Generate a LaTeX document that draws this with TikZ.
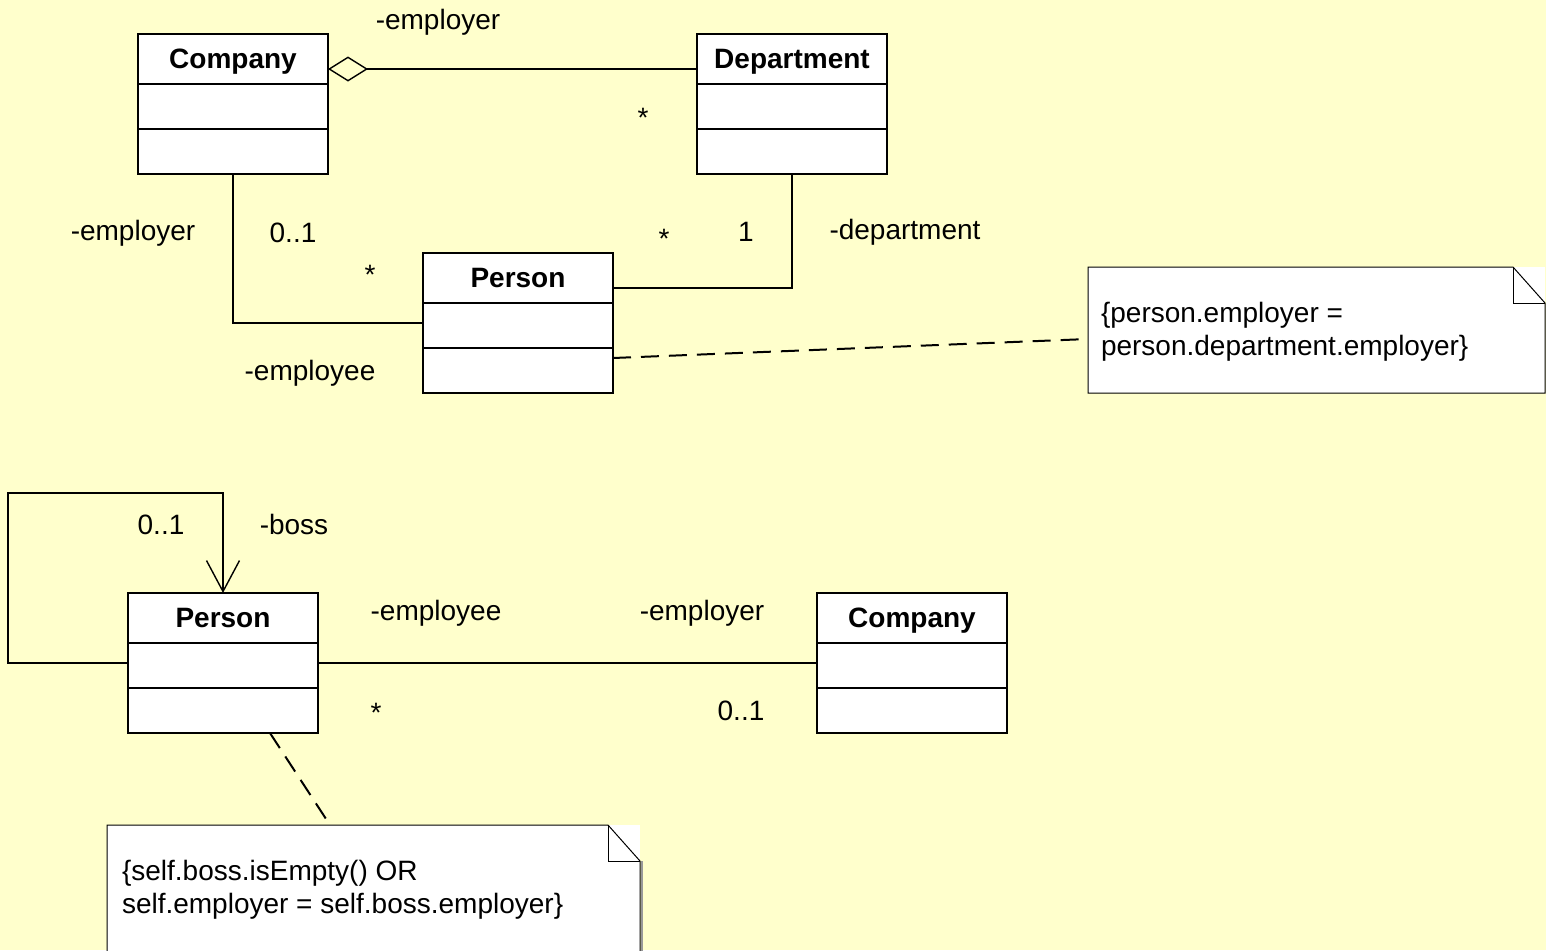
\documentclass[tikz,border=0pt]{standalone}
\usepackage{fontspec}
\setmainfont{Liberation Sans}
\usetikzlibrary{arrows.meta}
\definecolor{paper}{RGB}{255,255,204}

% UML class: name, left x, top y, title
\newcommand\umlclass[4]{%
  \node[classbox] (#1) at (#2,#3) {};
  \draw[boxline] ([yshift=-25pt]#1.north west) -- ([yshift=-25pt]#1.north east);
  \draw[boxline] ([yshift=-47.5pt]#1.north west) -- ([yshift=-47.5pt]#1.north east);
  \node[classname] (#1-title) at ([yshift=-17pt]#1.north) {#4};
}

% UML note with a folded corner: name, left x, top y, width, height
\newcommand\umlnote[5]{%
  \node[notearea, minimum width=#4, minimum height=#5] (#1) at (#2,#3) {};
  \draw[noteshadow] ([xshift=1pt,yshift=-18pt]#1.north east) -- ([xshift=1pt]#1.south east);
  \draw[noteline] (#1.north west) -- ([xshift=-16pt]#1.north east)
    -- ([yshift=-18pt]#1.north east) -- (#1.south east) -- (#1.south west) -- cycle;
  \draw[noteline] ([xshift=-16pt]#1.north east) -- ([xshift=-16pt,yshift=-18pt]#1.north east)
    -- ([yshift=-18pt]#1.north east);
}

\begin{document}
\begin{tikzpicture}[x=0.5pt,y=-0.5pt,
  every node/.style={font=\fontsize{14}{16.5}\selectfont, inner sep=0pt, outer sep=0pt},
  boxline/.style={line width=1.25pt},
  classbox/.style={draw, boxline, fill=white, minimum width=95pt, minimum height=70pt, anchor=north west},
  classname/.style={anchor=base, font=\fontsize{14}{16.5}\selectfont\bfseries},
  assoc/.style={line width=0.7pt},
  notelink/.style={line width=1pt, dash pattern=on 9pt off 5pt},
  notearea/.style={fill=white, anchor=north west},
  noteline/.style={line width=0.5pt},
  noteshadow/.style={line width=1pt, gray!80},
  notetext/.style={anchor=north west, align=left},
  lbl/.style={anchor=base},
]
\clip (0,0) rectangle (1546,950);
\fill[paper] (0,0) rectangle (1546,950);

% ---------- Company / Department / Person ----------
\umlclass{company}{138}{34}{Company}
\umlclass{dept}{697}{34}{Department}
\umlclass{person}{423}{253}{Person}

\draw[assoc, {Diamond[open, length=20pt, width=12.5pt]}-]
  ([yshift=-17.5pt]company.north east) -- ([yshift=-17.5pt]dept.north west);
\draw[assoc] (company.south) |- (person.west);
\draw[assoc] (dept.south) |- ([yshift=-17.5pt]person.north east);

\node[lbl] (l1) at (438,29) {-employer};
\node[lbl] (l2) at (643,127) {*};
\node[lbl] (l3) at (133,240) {-employer};
\node[lbl] (l4) at (293,242) {0..1};
\node[lbl] (l5) at (370,284) {*};
\node[lbl] (l6) at (664,248) {*};
\node[lbl] (l7) at (746,241) {1};
\node[lbl] (l8) at (905,239) {-department};
\node[lbl] (l9) at (310,380) {-employee};

\umlnote{note1}{1088}{267}{228.5pt}{63pt}
\node[notetext] (note1-text) at (1101,302) {\{person.employer =\\person.department.employer\}};
\draw[notelink] ([yshift=-52.5pt]person.north east) -- ([yshift=-36pt]note1.north west);

% ---------- Person with boss / Company ----------
\umlclass{person2}{128}{593}{Person}
\umlclass{company2}{817}{593}{Company}

\coordinate (loop) at (8,493);
\draw[assoc, -{Straight Barb[length=15.5pt, width=16.5pt]}]
  (person2.west) -| (loop) -| (person2.north);
\draw[assoc] (person2.east) -- (company2.west);

\node[lbl] (m1) at (161,534) {0..1};
\node[lbl] (m2) at (294,534) {-boss};
\node[lbl] (m3) at (436,620) {-employee};
\node[lbl] (m4) at (702,620) {-employer};
\node[lbl] (m5) at (376,722) {*};
\node[lbl] (m6) at (741,720) {0..1};

\umlnote{note2}{107}{825}{266.5pt}{70pt}
\node[notetext] (note2-text) at (122,860) {\{self.boss.isEmpty() OR\\self.employer = self.boss.employer\}};
\draw[notelink] ([xshift=23.5pt]person2.south) -- ([xshift=111.5pt]note2.north west);
\end{tikzpicture}
\end{document}
